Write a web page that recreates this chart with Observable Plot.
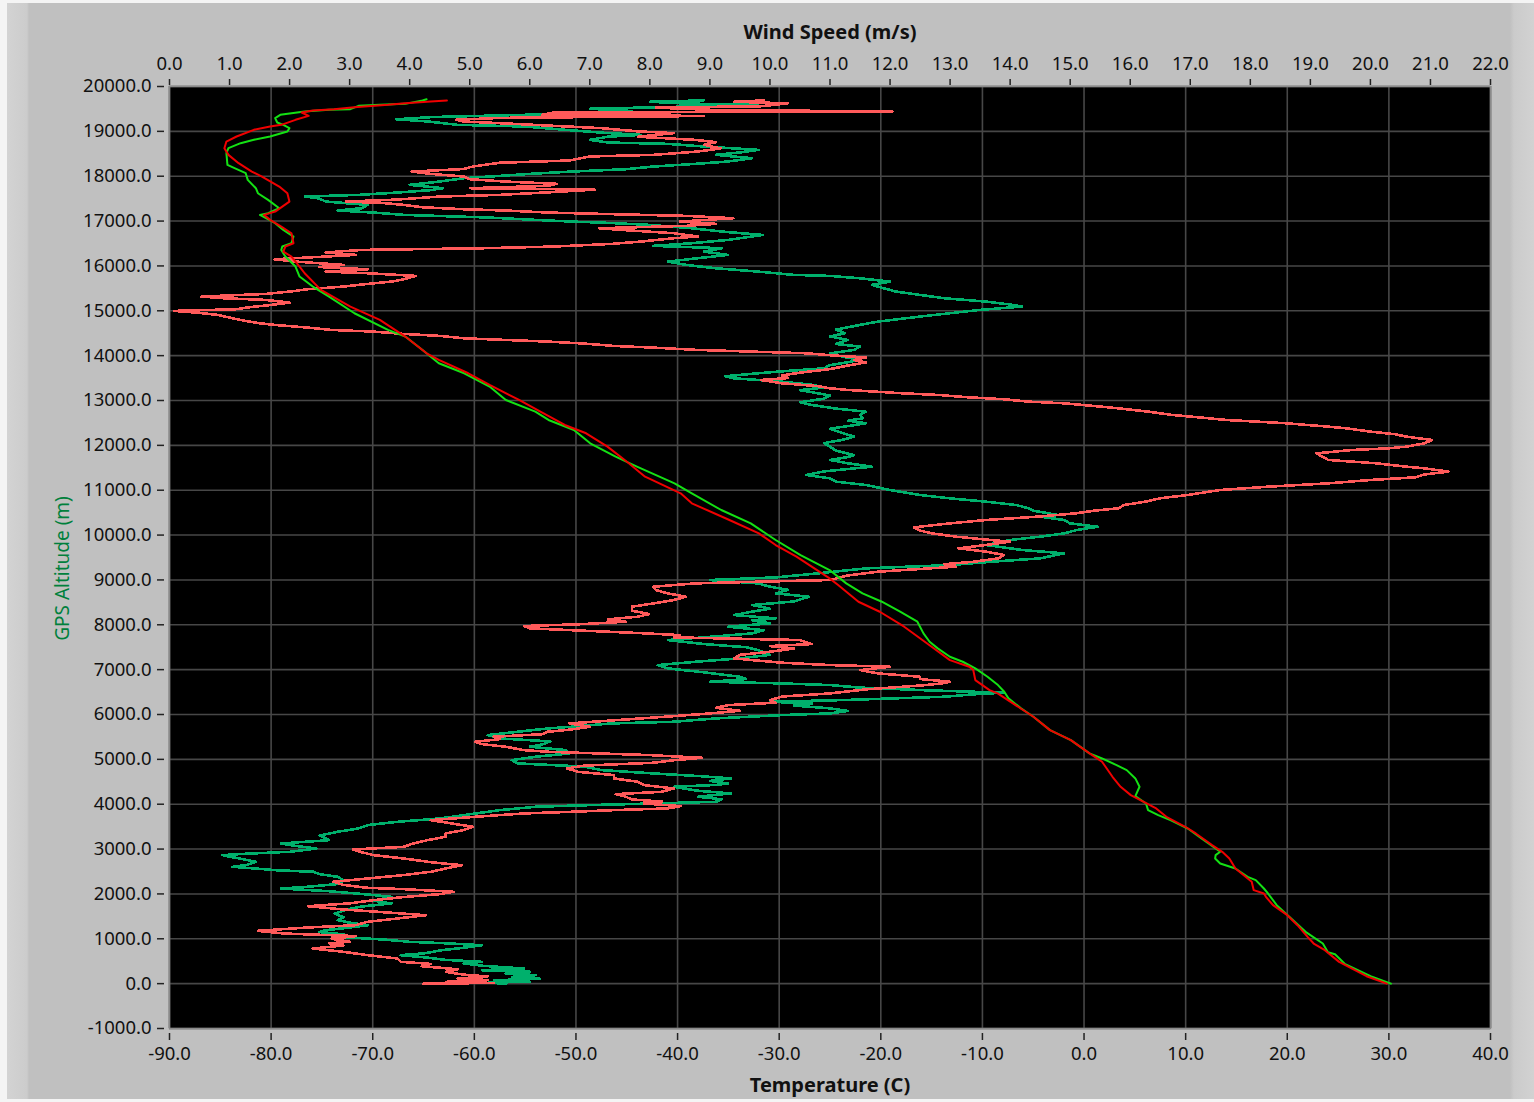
<!DOCTYPE html>
<html><head><meta charset="utf-8">
<script src="https://cdn.jsdelivr.net/npm/d3@7"></script>
<script src="https://cdn.jsdelivr.net/npm/@observablehq/plot@0.6"></script>
<style>
html,body{margin:0;padding:0;background:#f4f4f4;width:1534px;height:1102px;overflow:hidden;}
#panel{position:absolute;left:7px;top:3px;width:1527px;height:1096px;background:linear-gradient(to right,#d3d3d3 0px,#cccccc 20px,#c0c0c0 22px,#c0c0c0 1503px,#cbcbcb 1507px,#d2d2d2 1527px);}
#chart{position:absolute;left:0;top:0;}
</style></head><body>
<div id="panel"></div><div id="chart"></div>
<script>
// Axis ticks
const tempTicks = [-90,-80,-70,-60,-50,-40,-30,-20,-10,0,10,20,30,40];
const windTicks = [0,1,2,3,4,5,6,7,8,9,10,11,12,13,14,15,16,17,18,19,20,21,22];
const altTicks = [-1000,0,1000,2000,3000,4000,5000,6000,7000,8000,9000,10000,11000,12000,13000,14000,15000,16000,17000,18000,19000,20000];

// Temperature profiles: [GPS altitude (m), temperature (C)]
const tempGreen = [[0,30.2],[166,28.2],[434,25.7],[657,24.7],[700,24.0],[894,23.5],[1155,21.8],[1490,20.2],[1750,18.96],[2010,18.1],[2121,17.7],[2307,16.9],[2381,16.1],[2567,14.9],[2679,13.4],[2790,12.9],[2865,12.95],[2939,13.4],[3199,11.8],[3459,10.2],[3645,8.5],[3757,7.3],[3868,6.3],[4017,6.1],[4180,5.05],[4389,5.46],[4575,5.05],[4760,4.2],[4872,3.2],[5020,1.77],[5132,0.54],[5429,-1.3],[5652,-3.35],[5950,-4.98],[6136,-6.2],[6359,-7.44],[6507,-7.85],[6656,-8.47],[6842,-9.5],[7028,-10.7],[7176,-11.94],[7288,-13.2],[7474,-14.4],[7622,-15.2],[7808,-15.8],[8068,-16.4],[8291,-18.1],[8514,-19.9],[8700,-21.8],[8923,-23.4],[9221,-25.04],[9555,-27.9],[9890,-30.35],[10261,-32.8],[10559,-35.7],[10930,-38.6],[11153,-40.3],[11525,-44.0],[11748,-46.1],[12046,-48.6],[12343,-50.2],[12566,-52.7],[12752,-54.0],[13012,-56.9],[13310,-58.5],[13607,-61.0],[13830,-63.5],[14127,-65.1],[14425,-66.8],[14573,-68.5],[14945,-71.8],[15317,-74.3],[15540,-75.9],[15763,-77.2],[15986,-77.6],[16209,-78.6],[16357,-79.0],[16432,-78.9],[16506,-78.0],[16655,-77.8],[16803,-78.8],[16952,-79.6],[17064,-80.5],[17138,-81.1],[17175,-80.3],[17287,-79.2],[17472,-80.3],[17621,-81.3],[17733,-81.5],[17918,-82.3],[18067,-82.5],[18179,-83.6],[18253,-84.3],[18513,-84.4],[18625,-84.2],[18736,-83.0],[18811,-81.7],[18885,-80.1],[18996,-78.4],[19071,-78.2],[19145,-78.8],[19197,-79.4],[19294,-79.6],[19368,-79.1],[19405,-78.0],[19442,-76.7],[19480,-74.3],[19494,-72.2],[19569,-71.4],[19591,-69.3],[19613,-66.8],[19688,-65.1],[19717,-64.7]];
const tempRed = [[0,29.8],[166,27.8],[485,25.1],[746,23.7],[894,22.6],[1043,22.0],[1303,21.0],[1526,20.0],[1750,18.6],[1935,17.9],[2010,17.7],[2084,16.7],[2270,16.5],[2381,15.9],[2567,14.9],[2790,14.3],[2939,13.6],[3088,12.6],[3348,11.0],[3497,9.96],[3720,8.1],[3905,7.1],[4203,4.6],[4389,3.6],[4612,2.8],[4946,1.77],[5132,0.54],[5429,-1.3],[5652,-3.35],[5950,-4.98],[6247,-7.0],[6470,-8.5],[6544,-9.3],[6767,-10.7],[6990,-10.9],[7065,-11.3],[7213,-13.2],[7511,-15.0],[7957,-17.7],[8291,-20.1],[8514,-22.2],[8886,-24.2],[9035,-25.04],[9518,-28.3],[9778,-30.35],[10038,-32.0],[10336,-34.9],[10708,-38.6],[10930,-39.7],[11302,-43.2],[11600,-44.8],[11971,-46.9],[12269,-49.0],[12455,-51.1],[12752,-53.5],[13012,-55.6],[13347,-58.5],[13607,-60.6],[13904,-63.5],[14053,-64.7],[14425,-66.8],[14796,-69.3],[15094,-72.2],[15465,-75.1],[15837,-76.7],[15986,-77.2],[16209,-78.0],[16320,-78.8],[16432,-78.6],[16506,-77.8],[16729,-78.0],[16878,-79.0],[17027,-80.1],[17138,-80.7],[17212,-79.6],[17435,-78.2],[17621,-78.4],[17770,-79.2],[17993,-80.9],[18104,-81.9],[18290,-83.2],[18476,-84.2],[18625,-84.6],[18773,-84.4],[18885,-83.4],[19034,-81.7],[19108,-80.1],[19145,-79.0],[19257,-77.6],[19346,-76.3],[19420,-77.0],[19465,-75.9],[19494,-73.8],[19539,-71.8],[19591,-68.5],[19628,-66.8],[19665,-64.3],[19688,-62.7]];

// Wind speed profiles: [GPS altitude (m), wind speed (m/s)]
const windGreen = [[0,5.6],[20,5.3],[45,6.0],[75,5.4],[110,6.17],[150,5.7],[190,6.1],[226,5.6],[265,6.0],[300,5.2],[337,5.9],[400,5.2],[450,4.9],[486,5.2],[530,4.6],[580,4.3],[635,3.85],[680,4.27],[740,4.5],[800,4.9],[857,5.2],[900,4.6],[932,4.0],[980,3.6],[1043,2.8],[1100,2.9],[1150,2.5],[1192,2.6],[1250,3.0],[1303,3.3],[1360,3.0],[1415,2.8],[1480,2.9],[1560,2.75],[1650,2.95],[1720,3.2],[1787,3.7],[1850,3.4],[1935,3.7],[2000,3.2],[2060,2.66],[2121,1.86],[2160,2.3],[2220,2.8],[2300,2.9],[2382,2.8],[2440,2.5],[2493,2.4],[2530,1.75],[2570,1.4],[2604,1.05],[2650,1.3],[2716,1.44],[2780,1.2],[2830,1.0],[2865,0.88],[2900,1.33],[2939,2.0],[3013,2.45],[3070,2.1],[3125,1.86],[3199,2.66],[3300,2.5],[3385,2.8],[3460,3.15],[3534,3.3],[3608,3.8],[3682,4.5],[3794,5.1],[3868,5.5],[3943,6.1],[3980,7.0],[4017,8.06],[4054,9.1],[4110,9.2],[4166,8.8],[4240,9.35],[4300,8.8],[4389,8.4],[4430,9.1],[4463,9.3],[4520,9.0],[4575,9.35],[4620,8.9],[4686,8.06],[4760,7.2],[4840,6.9],[4909,5.8],[4983,5.7],[5058,6.1],[5132,6.66],[5206,6.6],[5281,6.0],[5330,6.2],[5400,6.34],[5466,5.5],[5541,5.3],[5615,5.8],[5689,6.3],[5727,6.7],[5801,7.36],[5838,8.4],[5913,9.1],[5987,10.2],[6024,11.0],[6080,11.3],[6136,11.0],[6200,10.4],[6247,10.7],[6284,10.0],[6321,11.2],[6396,12.9],[6460,13.5],[6485,13.9],[6540,12.6],[6600,11.5],[6656,11.0],[6693,10.2],[6730,9.0],[6790,9.6],[6842,9.5],[6940,8.9],[7028,8.3],[7102,8.13],[7180,8.8],[7251,9.5],[7330,10.0],[7436,9.8],[7500,9.6],[7570,8.9],[7660,8.3],[7720,8.9],[7808,9.7],[7880,9.9],[7957,9.3],[8031,10.0],[8100,9.7],[8143,10.1],[8217,9.4],[8291,9.7],[8360,10.0],[8440,9.7],[8520,10.4],[8626,10.65],[8700,10.1],[8780,10.3],[8849,10.0],[8923,9.8],[8998,9.0],[9057,10.1],[9146,10.8],[9258,11.6],[9332,13.0],[9406,13.7],[9481,14.5],[9592,14.9],[9667,14.2],[9778,13.6],[9890,14.0],[9964,14.5],[10038,14.9],[10110,15.1],[10187,15.46],[10260,15.0],[10336,14.9],[10410,14.5],[10447,14.8],[10540,14.4],[10600,14.3],[10670,14.1],[10744,13.6],[10819,13.0],[10893,12.5],[11005,12.0],[11116,11.6],[11190,11.1],[11265,11.0],[11340,10.6],[11420,10.9],[11525,11.7],[11600,11.3],[11674,11.0],[11740,11.3],[11785,11.4],[11880,11.1],[11971,11.0],[12050,10.9],[12120,11.2],[12194,11.4],[12280,11.2],[12370,11.0],[12430,11.3],[12492,11.6],[12550,11.3],[12603,11.55],[12680,11.5],[12750,11.6],[12820,11.1],[12900,10.7],[12960,10.5],[13040,10.9],[13110,11.0],[13161,10.8],[13230,10.5],[13290,10.9],[13350,10.7],[13420,10.2],[13495,9.4],[13540,9.25],[13607,9.8],[13660,10.3],[13718,10.9],[13790,11.0],[13830,11.2],[13904,11.5],[13980,11.2],[14050,11.0],[14127,11.4],[14202,11.5],[14260,11.1],[14350,11.3],[14430,11.0],[14499,11.25],[14580,11.1],[14685,11.5],[14759,11.8],[14871,12.5],[14945,13.0],[15020,13.5],[15094,14.2],[15140,14.0],[15205,13.6],[15280,12.9],[15354,12.5],[15428,12.1],[15500,11.9],[15577,11.7],[15651,12.0],[15725,11.5],[15777,11.0],[15800,10.4],[15874,9.8],[15948,9.1],[16023,8.6],[16097,8.3],[16172,8.8],[16246,9.3],[16320,8.9],[16395,9.2],[16447,8.06],[16506,8.7],[16580,9.3],[16655,9.7],[16690,9.88],[16766,9.2],[16840,8.7],[16915,8.0],[16960,7.3],[16989,6.7],[17026,6.1],[17080,5.3],[17138,3.9],[17190,3.4],[17235,2.8],[17287,3.2],[17361,3.3],[17435,2.6],[17500,2.5],[17547,2.26],[17584,3.15],[17636,3.8],[17690,4.35],[17733,4.55],[17807,4.0],[17881,4.5],[17956,4.9],[18007,5.5],[18052,6.0],[18104,6.7],[18156,7.6],[18216,8.06],[18275,8.76],[18327,9.3],[18402,9.7],[18476,9.1],[18530,9.5],[18587,9.81],[18662,8.9],[18721,8.3],[18751,7.3],[18811,7.0],[18880,7.3],[18922,7.85],[18970,7.2],[19034,6.6],[19108,5.9],[19145,4.8],[19220,4.3],[19270,3.78],[19320,4.4],[19368,5.9],[19393,6.4],[19420,7.0],[19454,7.7],[19503,7.0],[19540,8.2],[19590,9.8],[19620,8.6],[19660,8.0],[19690,8.9],[19700,8.7]];
const windRed = [[0,4.23],[15,5.4],[40,4.6],[80,5.3],[114,4.8],[160,5.3],[200,4.9],[262,4.6],[320,4.8],[389,4.2],[440,4.35],[486,3.85],[560,3.8],[635,3.3],[709,2.9],[783,2.38],[850,2.9],[900,2.66],[932,3.0],[1000,2.7],[1060,3.1],[1118,1.9],[1177,1.47],[1251,2.3],[1303,3.1],[1378,3.3],[1452,3.8],[1526,4.27],[1580,3.7],[1653,2.9],[1727,2.31],[1790,3.0],[1861,3.4],[1930,3.9],[1995,4.5],[2047,4.73],[2107,3.9],[2136,3.3],[2200,2.9],[2270,2.73],[2344,3.3],[2420,3.9],[2493,4.35],[2567,4.6],[2641,4.87],[2700,4.4],[2790,3.9],[2865,3.4],[2930,3.2],[2991,3.06],[3050,3.9],[3125,4.06],[3200,4.3],[3274,4.6],[3350,4.6],[3422,4.9],[3497,5.05],[3571,4.7],[3645,4.35],[3720,5.1],[3794,5.9],[3831,6.7],[3868,7.4],[3906,8.3],[3957,8.51],[4017,7.9],[4060,8.2],[4106,7.7],[4166,7.6],[4225,7.43],[4277,8.2],[4352,8.4],[4426,7.9],[4500,7.8],[4575,7.4],[4649,7.4],[4723,6.8],[4798,6.62],[4860,6.9],[4924,8.06],[4980,8.4],[5035,8.86],[5095,8.0],[5169,6.3],[5206,5.9],[5281,5.6],[5340,5.2],[5392,5.09],[5450,5.5],[5504,5.4],[5560,6.2],[5615,6.3],[5667,6.7],[5727,7.0],[5801,6.66],[5880,7.5],[5964,8.4],[6024,9.0],[6084,9.5],[6150,9.1],[6210,9.3],[6262,10.1],[6321,10.0],[6400,10.2],[6470,11.0],[6560,11.6],[6656,12.6],[6700,12.9],[6730,13.0],[6790,12.5],[6842,12.5],[6916,11.8],[6990,11.5],[7065,12.0],[7102,11.0],[7154,10.2],[7213,9.7],[7251,9.4],[7330,9.5],[7399,10.0],[7470,10.4],[7526,10.0],[7570,10.69],[7660,10.5],[7719,8.4],[7770,8.5],[7823,7.7],[7868,6.9],[7920,6.0],[7972,5.91],[8016,6.9],[8068,7.6],[8121,7.3],[8180,7.8],[8239,7.99],[8314,7.7],[8403,7.7],[8477,8.06],[8552,8.4],[8626,8.6],[8700,8.3],[8775,8.1],[8849,8.06],[8923,8.76],[8960,9.8],[8998,11.0],[9100,11.3],[9183,11.8],[9235,12.4],[9295,13.1],[9350,12.9],[9406,13.4],[9481,13.8],[9555,13.9],[9630,13.6],[9704,13.14],[9780,13.6],[9853,14.0],[9900,13.6],[9964,13.1],[10038,12.7],[10100,12.5],[10172,12.4],[10261,13.0],[10336,13.6],[10410,14.45],[10485,15.1],[10544,15.4],[10596,15.8],[10670,15.9],[10744,16.25],[10820,16.5],[10893,16.95],[11005,17.5],[11079,18.3],[11153,19.3],[11228,20.0],[11287,20.75],[11350,20.9],[11414,21.3],[11488,20.9],[11525,20.6],[11600,20.1],[11674,19.3],[11748,19.2],[11822,19.1],[11897,19.7],[11934,20.3],[11971,20.6],[12046,20.9],[12120,21.03],[12194,20.6],[12250,20.4],[12306,20.0],[12380,19.6],[12417,19.3],[12492,18.6],[12566,17.6],[12618,17.2],[12677,16.7],[12752,16.3],[12826,15.8],[12878,15.4],[12937,14.9],[12975,14.3],[13027,13.9],[13072,13.3],[13124,12.8],[13161,12.2],[13198,11.75],[13235,11.3],[13272,11.0],[13320,10.8],[13384,10.2],[13458,9.85],[13500,10.3],[13560,10.2],[13620,10.5],[13700,11.0],[13780,11.3],[13850,11.6],[13904,11.4],[13960,11.6],[14000,11.1],[14053,10.6],[14127,8.8],[14179,8.06],[14216,7.4],[14270,6.9],[14313,6.3],[14350,5.6],[14387,4.9],[14440,4.5],[14484,3.9],[14536,3.4],[14573,2.7],[14633,2.24],[14685,1.75],[14722,1.5],[14759,1.33],[14833,1.05],[14908,0.8],[14960,0.45],[14997,0.07],[15034,1.1],[15079,1.33],[15131,1.7],[15183,2.0],[15242,1.6],[15280,0.9],[15317,0.53],[15376,1.6],[15428,2.0],[15480,2.3],[15540,2.9],[15599,3.3],[15651,3.7],[15703,3.9],[15777,4.1],[15837,3.3],[15874,2.6],[15926,3.3],[15975,2.5],[16023,2.9],[16097,2.1],[16149,1.75],[16209,2.6],[16246,3.1],[16300,2.6],[16357,3.2],[16394,5.2],[16432,6.4],[16491,7.36],[16543,7.85],[16618,8.4],[16655,8.8],[16729,8.4],[16788,7.7],[16840,7.15],[16893,8.6],[16937,9.1],[16989,8.5],[17064,9.39],[17116,8.6],[17153,7.4],[17190,6.3],[17235,5.6],[17264,4.9],[17309,4.2],[17361,3.9],[17398,3.6],[17435,2.94],[17480,3.8],[17547,4.5],[17584,5.5],[17640,6.3],[17700,7.08],[17733,5.0],[17785,6.3],[17830,6.45],[17881,5.6],[17933,5.0],[17993,4.9],[18052,4.35],[18104,4.03],[18160,4.9],[18216,5.05],[18300,5.5],[18350,6.66],[18440,7.0],[18476,8.06],[18550,8.8],[18620,9.18],[18700,8.9],[18760,9.1],[18810,8.76],[18880,7.8],[18960,8.4],[19000,7.8],[19070,7.2],[19150,6.0],[19220,4.9],[19257,4.77],[19300,5.5],[19343,8.9],[19368,6.2],[19420,6.4],[19440,12.04],[19480,9.0],[19529,8.1],[19560,9.85],[19625,10.3],[19660,9.4],[19690,9.9]];

// The top (wind) axis shares the plot width with the bottom (temperature) axis.
const T_MIN = -90, T_MAX = 40, W_MAX = 22;
const speedToX = s => T_MIN + s * (T_MAX - T_MIN) / W_MAX;
const xToSpeed = x => (x - T_MIN) * W_MAX / (T_MAX - T_MIN);

const gridColor = "#474747";
const chart = Plot.plot({
  width: 1534,
  height: 1102,
  marginLeft: 169,
  marginRight: 44,
  marginTop: 86,
  marginBottom: 74,
  style: {background: "transparent", fontFamily: "'Noto Sans', sans-serif", fontSize: "18.5px", color: "#111111"},
  x: {domain: [T_MIN, T_MAX]},
  y: {domain: [-1000, 20000]},
  marks: [
    Plot.frame({fill: "#000000"}),
    Plot.gridX(tempTicks, {stroke: gridColor, strokeOpacity: 1, strokeWidth: 1.6}),
    Plot.gridY(altTicks, {stroke: gridColor, strokeOpacity: 1, strokeWidth: 1.6}),
    Plot.line(windGreen, {x: d => speedToX(d[1]), y: d => d[0], stroke: "#00b06c", strokeWidth: 2.6, shapeRendering: "crispEdges"}),
    Plot.line(windRed, {x: d => speedToX(d[1]), y: d => d[0], stroke: "#ff5a5a", strokeWidth: 2.6, shapeRendering: "crispEdges"}),
    Plot.line(tempGreen, {x: d => d[1], y: d => d[0], stroke: "#14e014", strokeWidth: 2}),
    Plot.line(tempRed, {x: d => d[1], y: d => d[0], stroke: "#f00000", strokeWidth: 2}),
    Plot.frame({stroke: "#8a8a8a", strokeWidth: 1.5}),
    Plot.axisX(tempTicks, {anchor: "bottom", tickFormat: d => d.toFixed(1), tickSize: 7, tickPadding: 6, dy: 5, stroke: "#222", strokeWidth: 1.5, label: null}),
    Plot.axisX(windTicks.map(speedToX), {anchor: "top", tickFormat: d => xToSpeed(d).toFixed(1), tickSize: 6, tickPadding: 9, dy: -2, stroke: "#222", strokeWidth: 1.5, label: null}),
    Plot.axisY(altTicks, {anchor: "left", tickFormat: d => d.toFixed(1), tickSize: 7, tickPadding: 6, dx: -5, stroke: "#222", strokeWidth: 1.5, label: null}),
    Plot.text(["Wind Speed (m/s)"], {frameAnchor: "top", textAnchor: "middle", lineAnchor: "middle", dy: -54, fontWeight: "bold", fontSize: 20, fill: "#111111"}),
    Plot.text(["Temperature (C)"], {frameAnchor: "bottom", textAnchor: "middle", lineAnchor: "middle", dy: 57, fontWeight: "bold", fontSize: 20, fill: "#111111"}),
    Plot.text(["GPS Altitude (m)"], {frameAnchor: "left", textAnchor: "middle", lineAnchor: "middle", rotate: -90, dx: -107, dy: 11, fontSize: 19, fill: "#00803c"})
  ]
});
document.getElementById("chart").appendChild(chart);
</script></body></html>
